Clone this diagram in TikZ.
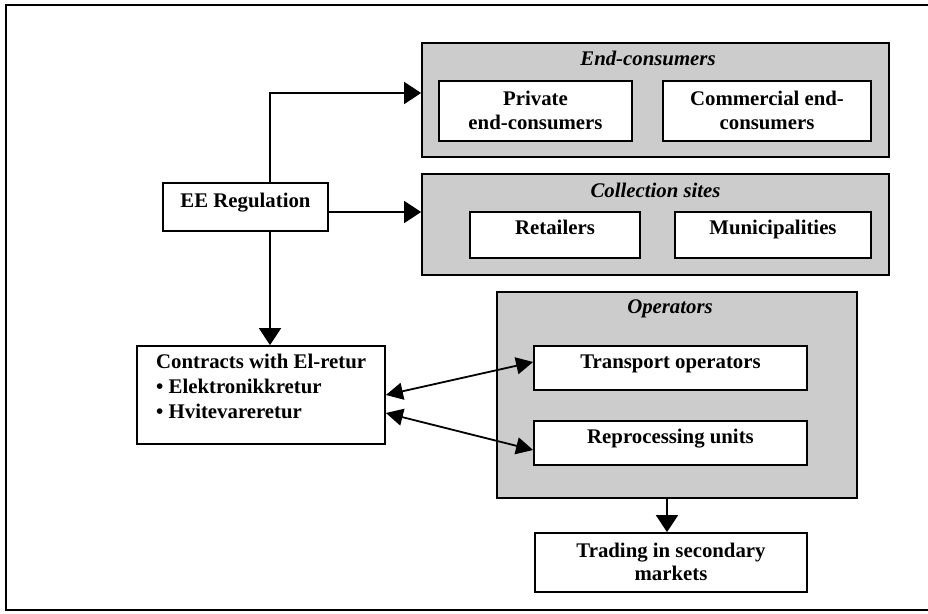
\documentclass[tikz,border=0pt]{standalone}
\usepackage{fontspec}
\setmainfont{Liberation Serif}
\usetikzlibrary{arrows.meta,calc}
\begin{document}
\begin{tikzpicture}[x=1pt,y=-1pt,
  box/.style={draw,line width=1.8pt,fill=white,inner sep=0pt},
  group/.style={draw,line width=1.8pt,fill=black!20,inner sep=0pt},
  txt/.style={font=\fontsize{20.8}{24}\selectfont\bfseries,inner sep=0pt,anchor=base},
  ttl/.style={font=\fontsize{20.8}{24}\selectfont\bfseries\itshape,inner sep=0pt,anchor=base},
  arr/.style={line width=1.8pt,-{Triangle[length=17pt,width=22pt]}},
  dbl/.style={line width=1.8pt,{Triangle[length=17pt,width=17pt]}-{Triangle[length=17pt,width=17pt]}}]
\useasboundingbox (0,0) rectangle (928,613);
\clip (0,0) rectangle (928,613);
% outer frame
\draw[line width=1.8pt] (6,5) rectangle (940,610);

% group panels
\node[group,minimum width=467pt,minimum height=114pt] (endc) at (655.5,100) {};
\node[group,minimum width=467pt,minimum height=101pt] (coll) at (655.5,224.5) {};
\node[group,minimum width=360pt,minimum height=206pt] (ops) at (677,395) {};

% boxes
\node[box,minimum width=165pt,minimum height=48pt] (ee) at (245.5,207) {};
\node[box,minimum width=193pt,minimum height=60pt] (priv) at (535.5,111) {};
\node[box,minimum width=208pt,minimum height=60pt] (comm) at (767,111) {};
\node[box,minimum width=170pt,minimum height=46pt] (ret) at (555,235) {};
\node[box,minimum width=196pt,minimum height=46pt] (mun) at (773,235) {};
\node[box,minimum width=273pt,minimum height=44pt] (trans) at (670.5,368) {};
\node[box,minimum width=273pt,minimum height=44pt] (repro) at (670.5,443) {};
\node[box,minimum width=272pt,minimum height=59pt] (trade) at (671,562.5) {};
\node[box,minimum width=248pt,minimum height=98pt] (contr) at (261,395) {};

% titles and labels
\node[ttl] (tendc) at (648,65) {End-consumers};
\node[ttl] (tcoll) at (655.5,197) {Collection sites};
\node[ttl] (tops) at (670,313) {Operators};
\node[txt] (tee) at (245.5,207) {EE Regulation};
\node[txt] (tpriv1) at (535.5,105) {Private};
\node[txt] (tpriv2) at (535.5,129) {end-consumers};
\node[txt] (tcomm1) at (767,105) {Commercial end-};
\node[txt] (tcomm2) at (767,129) {consumers};
\node[txt] (tret) at (555,234) {Retailers};
\node[txt] (tmun) at (773,234) {Municipalities};
\node[txt] (ttrans) at (670.5,368) {Transport operators};
\node[txt] (trepro) at (670.5,443) {Reprocessing units};
\node[txt] (ttrade1) at (671,557) {Trading in secondary};
\node[txt] (ttrade2) at (671,580) {markets};
\node[txt,anchor=base west] (tc1) at (156,368) {Contracts with El-retur};
\node[txt,anchor=base west] (tc2) at (156,393) {• Elektronikkretur};
\node[txt,anchor=base west] (tc3) at (156,418) {• Hvitevareretur};

% connectors
\draw[arr] ([xshift=24.5pt]ee.north) |- ([yshift=7pt]endc.west);
\draw[arr] ([yshift=-5pt]ee.east) coordinate (ea) -- (ea -| coll.west);
\draw[arr] ([xshift=24.5pt]ee.south) coordinate (es) -- (es |- contr.north);
\draw[dbl] (contr.east) -- ([yshift=6pt]trans.west);
\draw[dbl] ([yshift=-18pt]contr.east) -- ([yshift=-7pt]repro.west);
\draw[arr] ([xshift=-4pt]trade.north |- ops.south) -- ([xshift=-4pt]trade.north);
\end{tikzpicture}
\end{document}
